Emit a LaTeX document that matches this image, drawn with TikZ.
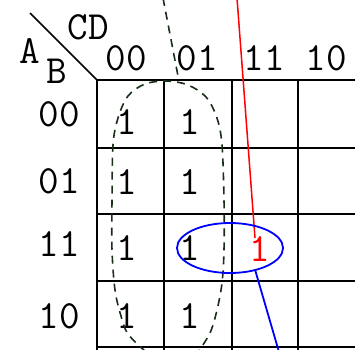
\documentclass[tikz,border=0pt]{standalone}
\usetikzlibrary{shapes.geometric}
\definecolor{loopcol}{RGB}{25,45,25}
\tikzset{
  lbl/.style={inner sep=0pt, font=\ttfamily\fontsize{40}{44}\selectfont},
  one/.style={lbl},
  gridline/.style={line width=1.9pt, black},
  looppath/.style={loopcol, line width=1.6pt, dash pattern=on 8pt off 6pt},
  redcon/.style={red, line width=1.5pt},
  bluecon/.style={blue, line width=1.8pt},
}
\begin{document}
\begin{tikzpicture}[x=1pt,y=-1pt]
\useasboundingbox (0,0) rectangle (355,349);
\clip (0,0) rectangle (355,349);
% grid
\foreach \yy in {80,148,214,281,347} \draw[gridline] (97,\yy) -- (360,\yy);
\foreach \xx in {97,164,232,298} \draw[gridline] (\xx,80) -- (\xx,352);
\draw[line width=1.6pt] (30,13) -- (97,80);
% header labels
\node[lbl] (A) at (30,51) {A};
\node[lbl] (B) at (57,71) {B};
\node[lbl] (CD) at (88,27) {CD};
\node[lbl] (c00) at (126,58) {00};
\node[lbl] (c01) at (197,58) {01};
\node[lbl] (c11) at (264,58) {11};
\node[lbl] (c10) at (326,58) {10};
\node[lbl] (r00) at (59,114) {00};
\node[lbl] (r01) at (59,181) {01};
\node[lbl] (r11) at (59,244) {11};
\node[lbl] (r10) at (59,316) {10};
% ones
\node[one] (a0) at (127,122) {1};
\node[one] (a1) at (127,182) {1};
\node[one] (a2) at (127,248) {1};
\node[one] (a3) at (127,316) {1};
\node[one] (b0) at (190,122) {1};
\node[one] (b1) at (190,182) {1};
\node[one] (b2) at (190,248) {1};
\node[one] (b3) at (190,316) {1};
\node[one, text=red] (rr) at (260,249) {1};
% dashed loop
\draw[looppath] plot[smooth, tension=0.55] coordinates {
 (146,352) (128,334) (121,316) (115,290) (112,250) (112,200) (113,145)
 (118,118) (128,96) (145,84) (167,81) (188,85) (206,97) (217,118) (222,145)
 (224,200) (224,250) (222,283) (217,310) (210,333) (198,352)};
\coordinate (looptop) at (163,-2);
\coordinate (loopend) at (178,76);
\draw[looppath] (looptop) -- (loopend);
% red connector
\coordinate (redtop) at (237,-2);
\coordinate (redend) at (255,238);
\draw[redcon] (redtop) -- (redend);
% blue ellipse and connector
\node[ellipse, draw=blue, line width=1.8pt, minimum width=106pt, minimum height=50pt, inner sep=0pt] (ell) at (230,248) {};
\coordinate (blueend) at (279,352);
\draw[bluecon] (ell.-42) -- (blueend);
\end{tikzpicture}
\end{document}
